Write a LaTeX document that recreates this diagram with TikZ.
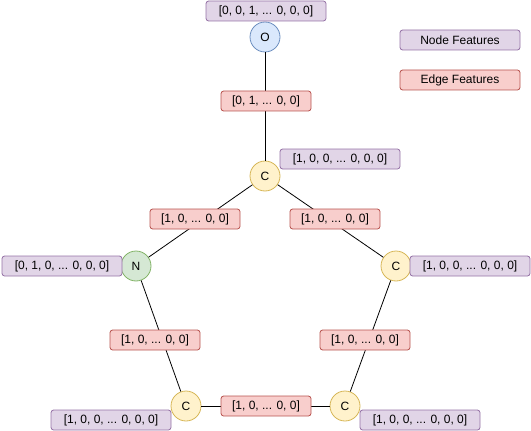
\documentclass[tikz,border=0pt]{standalone}
\usepackage{fontspec}
\setmainfont{Liberation Sans}
\definecolor{NodeFill}{HTML}{E1D5E7}
\definecolor{NodeLine}{HTML}{9673A6}
\definecolor{EdgeFill}{HTML}{F8CECC}
\definecolor{EdgeLine}{HTML}{B85450}
\definecolor{OxyFill}{HTML}{DAE8FC}
\definecolor{OxyLine}{HTML}{6C8EBF}
\definecolor{NitFill}{HTML}{D5E8D4}
\definecolor{NitLine}{HTML}{82B366}
\definecolor{CarFill}{HTML}{FFF2CC}
\definecolor{CarLine}{HTML}{D6B656}
\usetikzlibrary{positioning}

\begin{document}
\begin{tikzpicture}[x=0.75pt,y=-0.75pt,
    every node/.style={font=\fontsize{9}{10}\selectfont},
    atom/.style={circle,draw,minimum size=22.5pt,inner sep=0pt,line width=0.6pt},
    nfeat/.style={draw=NodeLine,fill=NodeFill,rounded corners=2pt,minimum width=90pt,minimum height=15pt,inner sep=0pt,line width=0.6pt},
    efeat/.style={draw=EdgeLine,fill=EdgeFill,rounded corners=2pt,minimum width=67.5pt,minimum height=15pt,inner sep=0pt,line width=0.6pt},
    bond/.style={draw=black,line width=0.6pt}]
  \useasboundingbox (0,0) rectangle (531,431);
  % atoms
  \node[atom,draw=OxyLine,fill=OxyFill] (O) at (265,37) {O};
  \node[atom,draw=CarLine,fill=CarFill] (C1) at (265,176) {C};
  \node[atom,draw=NitLine,fill=NitFill] (N) at (136,266) {N};
  \node[atom,draw=CarLine,fill=CarFill] (C2) at (396,266) {C};
  \node[atom,draw=CarLine,fill=CarFill] (C3) at (186,406) {C};
  \node[atom,draw=CarLine,fill=CarFill] (C4) at (345,406) {C};
  % node features
  \node[nfeat] (fO) at (266,11) {[0, 0, 1, ... 0, 0, 0]};
  \node[nfeat] (fC1) at (340,159) {[1, 0, 0, ... 0, 0, 0]};
  \node[nfeat] (fN) at (62,266) {[0, 1, 0, ... 0, 0, 0]};
  \node[nfeat] (fC2) at (470,266) {[1, 0, 0, ... 0, 0, 0]};
  \node[nfeat] (fC3) at (111,420) {[1, 0, 0, ... 0, 0, 0]};
  \node[nfeat] (fC4) at (420,420) {[1, 0, 0, ... 0, 0, 0]};
  % bonds
  \draw[bond] (O) -- (C1);
  \draw[bond] (C1) -- (N);
  \draw[bond] (C1) -- (C2);
  \draw[bond] (N) -- (C3);
  \draw[bond] (C2) -- (C4);
  \draw[bond] (C3) -- (C4);
  % edge features
  \node[efeat] (eOC) at (266,101) {[0, 1, ... 0, 0]};
  \node[efeat] (eCN) at (195,219) {[1, 0, ... 0, 0]};
  \node[efeat] (eCC) at (335,219) {[1, 0, ... 0, 0]};
  \node[efeat] (eNC) at (155,340) {[1, 0, ... 0, 0]};
  \node[efeat] (eCC2) at (365,340) {[1, 0, ... 0, 0]};
  \node[efeat] (eCC3) at (266,406) {[1, 0, ... 0, 0]};
  % legend
  \node[nfeat] (lgN) at (460,40) {Node Features};
  \node[efeat,minimum width=90pt] (lgE) at (460,80) {Edge Features};
\end{tikzpicture}
\end{document}
